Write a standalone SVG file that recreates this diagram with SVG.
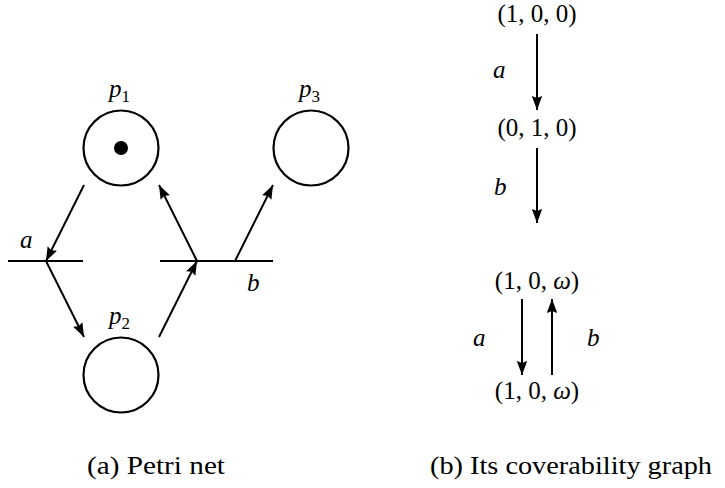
<svg xmlns="http://www.w3.org/2000/svg" width="725" height="488" viewBox="0 0 725 488">
<style>
  .pl { fill: none; stroke: #000; stroke-width: 2.2; }
  .ln { fill: none; stroke: #000; stroke-width: 2; }
  text { font-family: 'Liberation Serif', 'Times New Roman', 'DejaVu Serif', serif; font-size: 25px; fill: #000; }
  .i { font-style: italic; }
  .sub { font-size: 17px; font-style: normal; }
</style>
<defs>
  <marker id="ah" markerUnits="userSpaceOnUse" markerWidth="15" markerHeight="12" refX="14" refY="6" orient="auto" overflow="visible">
    <path d="M0,0.8 L14,6 L0,11.2 L2,6 z" fill="#000"/>
  </marker>
</defs>
<rect width="725" height="488" fill="#fff"/>

<g id="p1">
  <circle class="pl" cx="121" cy="148" r="37.5"/>
  <circle cx="121" cy="148" r="7" fill="#000"/>
  <text font-family="Liberation Serif, serif" class="i" x="109" y="97">p<tspan class="sub" dy="5">1</tspan></text>
</g>
<g id="p3">
  <circle class="pl" cx="311" cy="148" r="37.5"/>
  <text font-family="Liberation Serif, serif" class="i" x="299" y="97">p<tspan class="sub" dy="5">3</tspan></text>
</g>
<g id="p2">
  <circle class="pl" cx="121" cy="375" r="37.5"/>
  <text font-family="Liberation Serif, serif" class="i" x="109" y="324">p<tspan class="sub" dy="5">2</tspan></text>
</g>
<g id="ta">
  <line class="ln" x1="8" y1="261" x2="83" y2="261"/>
  <text class="i" x="20" y="248">a</text>
</g>
<g id="tb">
  <line class="ln" x1="160" y1="261" x2="273" y2="261"/>
  <text class="i" x="247" y="291">b</text>
</g>

<g id="net-arcs">
  <line class="ln" x1="84" y1="185" x2="46" y2="261" marker-end="url(#ah)"/>
  <line class="ln" x1="46" y1="261" x2="84" y2="337" marker-end="url(#ah)"/>
  <line class="ln" x1="159" y1="337" x2="197" y2="261" marker-end="url(#ah)"/>
  <line class="ln" x1="197" y1="261" x2="159" y2="185" marker-end="url(#ah)"/>
  <line class="ln" x1="235" y1="261" x2="273" y2="185" marker-end="url(#ah)"/>
</g>

<g id="s0"><text x="537" y="22" text-anchor="middle">(1, 0, 0)</text></g>
<g id="s1"><text x="537" y="136" text-anchor="middle">(0, 1, 0)</text></g>
<g id="s2"><text x="537" y="289" text-anchor="middle">(1, 0, <tspan class="i">ω</tspan>)</text></g>
<g id="s3"><text x="537" y="399" text-anchor="middle">(1, 0, <tspan class="i">ω</tspan>)</text></g>

<g id="graph-edges">
  <line class="ln" x1="537" y1="34" x2="537" y2="110" marker-end="url(#ah)"/>
  <line class="ln" x1="537" y1="148" x2="537" y2="223" marker-end="url(#ah)"/>
  <line class="ln" x1="522" y1="299" x2="522" y2="375" marker-end="url(#ah)"/>
  <line class="ln" x1="552" y1="375" x2="552" y2="299" marker-end="url(#ah)"/>
</g>
<g id="graph-labels">
  <text class="i" x="493" y="78">a</text>
  <text class="i" x="494" y="195">b</text>
  <text class="i" x="473" y="346">a</text>
  <text class="i" x="587" y="346">b</text>
</g>

<g id="captions">
  <text x="87" y="474" textLength="138" lengthAdjust="spacingAndGlyphs">(a) Petri net</text>
  <text x="430" y="474" textLength="282" lengthAdjust="spacingAndGlyphs">(b) Its coverability graph</text>
</g>
</svg>
